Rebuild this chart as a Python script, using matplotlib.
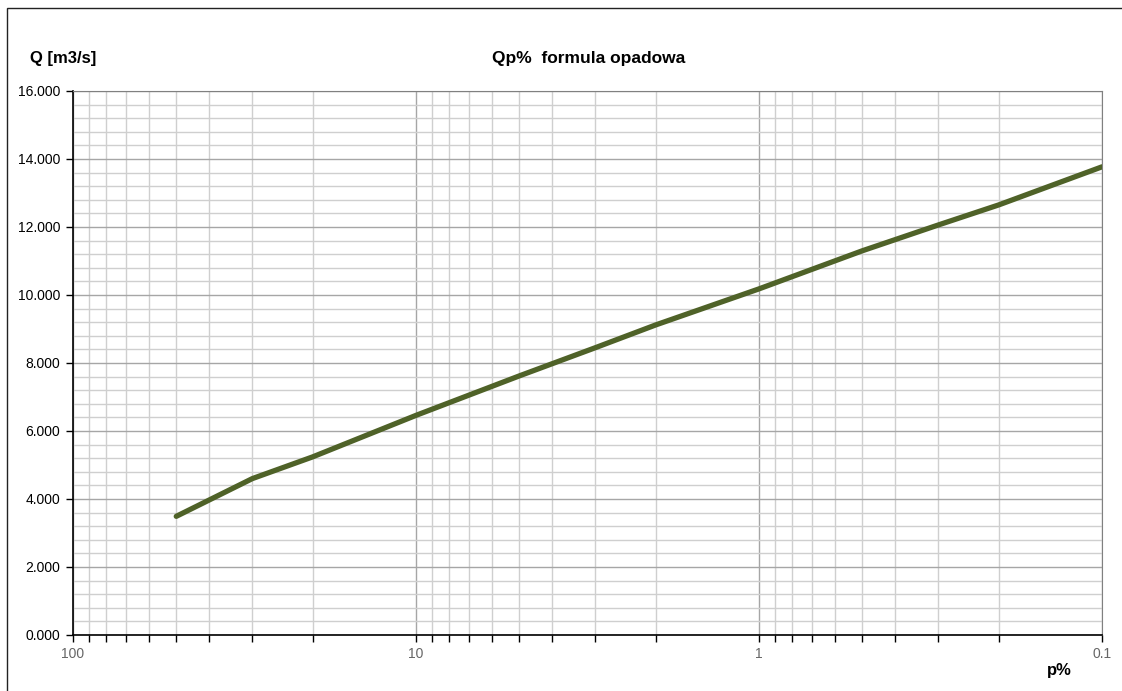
import matplotlib
matplotlib.use("Agg")
from matplotlib import pyplot as plt
from matplotlib.patches import Rectangle
from matplotlib.ticker import FixedLocator, FuncFormatter, LogLocator, MultipleLocator, NullFormatter

# probability of exceedance [%] and discharge [m3/s]
p_percent = [50, 30, 20, 10, 5, 3, 2, 1, 0.5, 0.3, 0.2, 0.1]
q_flow = [3.49, 4.60, 5.24, 6.46, 7.62, 8.45, 9.12, 10.18, 11.30, 12.06, 12.65, 13.77]

x_ticks = [100, 10, 1, 0.1]
x_tick_labels = ["100", "10", "1", "0.1"]

plt.rcParams['font.family'] = ['Liberation Sans', 'DejaVu Sans']

fig = plt.figure(figsize=(11.22, 6.91), dpi=100)
ax = fig.add_axes([73 / 1122, 1 - 635 / 691, 1029 / 1122, 544 / 691])

# outer chart frame
fig.patches.append(Rectangle((7 / 1122, -0.1), 1.2, 1 - 8 / 691 + 0.1, transform=fig.transFigure,
                             fill=False, edgecolor='#222222', linewidth=1.0))

ax.plot(p_percent, q_flow, color='#4F6228', linewidth=3.8, solid_capstyle='round', zorder=3)

ax.set_xscale('log')
ax.set_xlim(100, 0.1)
ax.set_ylim(0, 16)

ax.xaxis.set_major_locator(FixedLocator(x_ticks))
ax.xaxis.set_major_formatter(FuncFormatter(lambda v, pos: x_tick_labels[x_ticks.index(v)] if v in x_ticks else ""))
ax.xaxis.set_minor_locator(LogLocator(base=10, subs=range(2, 10)))
ax.xaxis.set_minor_formatter(NullFormatter())
ax.yaxis.set_major_locator(MultipleLocator(2))
ax.yaxis.set_minor_locator(MultipleLocator(0.4))
ax.yaxis.set_major_formatter(FuncFormatter(lambda v, pos: f"{v:.3f}"))

ax.grid(which='major', color='#a6a6a6', linewidth=1.0, zorder=0)
ax.grid(which='minor', color='#cfcfcf', linewidth=1.0, zorder=0)
ax.set_axisbelow(True)

ax.tick_params(axis='x', which='major', direction='out', length=5, width=1, color='black',
               labelsize=10, labelcolor='#666666', pad=4)
ax.tick_params(axis='x', which='minor', direction='out', length=5, width=1, color='black')
ax.tick_params(axis='y', which='major', direction='out', length=5, width=1, color='black',
               labelsize=10, labelcolor='black', pad=4)
ax.tick_params(axis='y', which='minor', length=0)

ax.spines['left'].set_color('black')
ax.spines['bottom'].set_color('black')
ax.spines['left'].set_linewidth(1.2)
ax.spines['bottom'].set_linewidth(1.2)
ax.spines['top'].set_color('#808080')
ax.spines['right'].set_color('#808080')

fig.text(589 / 1122, 1 - 58 / 691, "Qp%  formula opadowa", ha='center', va='center',
         fontsize=12.5, fontweight='bold')
fig.text(30 / 1122, 1 - 59 / 691, "Q [m3/s]", ha='left', va='center',
         fontsize=12, fontweight='bold')
fig.text(1059 / 1122, 1 - 670 / 691, "p%", ha='center', va='center',
         fontsize=12, fontweight='bold')

fig.savefig("out.png", dpi=100)
